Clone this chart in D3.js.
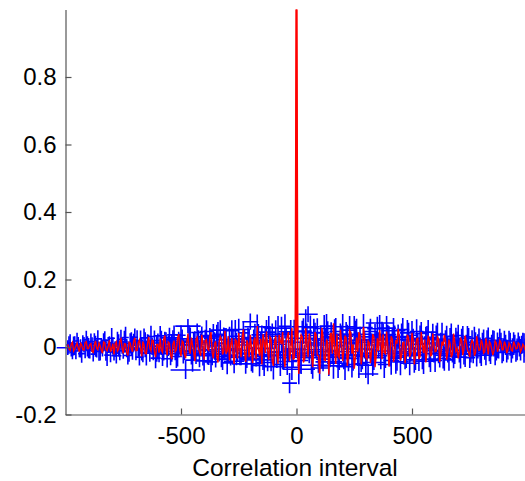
<!DOCTYPE html>
<html><head><meta charset="utf-8">
<script src="https://cdn.jsdelivr.net/npm/d3@7"></script>
<style>html,body{margin:0;background:#fff}svg{display:block}</style>
</head><body><div id="c"></div>
<script>
// all correlation values in thousandths; main lags run -990..-10 and 10..990 by tens
const redLeft = [
 8,-10,14,-6,12,-14,6,-9,16,-4, 10,-16,18,-8,4,-18,13,-11,20,-5,
 -22,15,-7,24,-19,9,-25,12,-14,27, -10,21,-28,6,-20,30,-12,18,-30,8,
 25,-16,34,-24,11,-36,19,-8,38,-28, 14,-33,40,-20,6,-42,29,-15,36,-38,
 22,-10,44,-34,17,-46,31,-22,48,-12, -40,26,-50,18,42,-30,52,-44,9,36,
 -48,28,62,-26,-52,14,46,-38,24,-56, 34,-50,18,44,-60,30,-42,56,-34];
const redRight = [
 -80,36,-46,56,-30,20,-60,44,-24,-80, 57,-38,22,-82,42,70,-50,-26,52,-42,
 34,-56,48,-20,-64,28,44,-52,60,-30, 18,-48,38,-60,26,50,-36,-16,46,-58,
 32,-44,20,54,-40,12,-48,36,-30,42, -52,24,-36,44,-18,-46,34,-26,40,-14,
 30,-44,16,36,-38,22,-30,40,-12,-34, 28,-24,34,-8,-30,20,-26,32,-10,22,
 -18,26,-22,10,-24,18,-14,20,-8,16, -18,12,-10,16,-6,12,-14,8,-10];
// in-between lags -985..-5 and 5..985 by tens
const redMidLeft = [
 -6,9,-12,4,-3,11,-8,13,-5,7, -13,6,-4,12,-9,15,-7,3,-14,10,
 8,-12,17,-3,10,-16,14,-5,18,-11, 13,-6,16,-19,9,-4,20,-13,7,-17,
 -10,22,-5,15,-24,8,-14,26,-9,18, -21,12,-7,28,-15,23,-3,-26,11,19,
 -6,30,-16,9,-28,14,24,-12,-20,32, 6,-18,22,-34,-8,27,-14,20,-30,-4,
 16,-36,-6,24,38,-18,-10,30,-42,12, -22,36,8,-28,16,44,-12,-36,20];
const redMidRight = [
 -20,10,30,-34,14,40,-16,-8,36,-26, -14,28,-40,12,34,-20,-6,38,-32,16,
 -10,26,-24,42,8,-30,-14,34,-18,22, -36,12,-8,30,-28,-12,24,38,-20,6,
 -16,22,-26,10,30,-24,14,-6,28,-18, 20,-10,26,-28,8,22,-12,18,-24,6,
 -12,24,-18,4,20,-14,10,-22,16,-4, -10,18,-6,14,-16,8,12,-18,6,-8,
 10,-14,4,16,-6,-10,12,-4,14,-8, 6,-9,5,-12,7,-4,8,-6,3];
const blueLeft = [
 -2,12,-16,4,18,-9,-20,7,22,-3, 16,-21,2,24,-12,-5,20,-24,8,26,
 -14,-26,5,23,-10,28,-25,11,-3,29, 19,-30,-6,27,-18,9,31,-13,-33,2,
 33,-20,14,-35,27,-4,36,-28,7,35, -13,-68,62,18,-39,5,43,-24,30,-41,
 46,-9,-44,34,-21,38,50,-36,10,-47, 22,48,-42,-6,52,-30,42,-50,14,75,
 -38,27,60,-55,18,-46,44,58,-24,-58, 37,56,-52,-14,61,-43,-107,-60,45];
const blueRight = [
 -66,-30,47,60,97,57,-54,24,43,-62, -14,55,62,-44,27,-56,46,-48,34,60,
 -58,14,50,-52,56,38,-50,-24,58,-54, -80,46,-46,20,54,71,37,-52,56,12,
 -40,48,-33,31,-44,52,-18,42,-48,35, -38,46,-25,40,-42,10,44,-36,29,-40,
 36,-19,38,-34,23,-38,32,-27,15,34, -30,26,-21,30,-32,8,26,-26,21,-20,
 18,-24,26,-14,20,-22,5,24,-16,18, -12,18,-20,10,-14,16,-8,12,-2];
const blueMidLeft = [
 6,-8,3,-12,9,-4,12,-7,2,-10, 7,10,-5,-13,4,14,-9,6,-15,3,
 -6,12,-11,5,16,-3,-14,9,13,-8, -4,15,-17,7,11,-12,2,19,-6,-16,
 12,-9,18,3,-14,22,-5,-20,10,16, -12,6,24,-18,2,-23,14,9,-26,18,
 -8,26,-20,4,30,-14,-28,12,22,-6, -24,16,32,-10,-30,6,24,-18,28,-34,
 10,-22,36,-4,-28,20,-38,14,32,-16, -26,8,38,-32,18,-12,42,-24,-6];
const blueMidRight = [
 14,-40,26,-18,34,-8,-32,42,6,-26, 20,-36,12,30,-22,-10,38,4,-30,24,
 -14,32,-34,10,-24,36,-6,20,-28,14, -18,30,-8,-32,22,6,-26,34,-12,24,
 -20,10,28,-30,4,22,-14,-26,30,-6, 18,-22,8,26,-16,-4,24,-20,12,-10,
 22,-14,6,-24,18,-8,20,-4,-18,12, -10,16,-20,6,14,-12,-16,10,2,-14,
 12,-6,14,-12,4,10,-10,-2,12,-8, 6,-10,8,-4,9,-7,2,6,-3];
const errYLeft = [
 22,26,20,28,24,21,27,23,26,30, 24,22,31,26,28,23,27,32,24,30,
 26,23,33,28,25,32,27,30,35,26, 31,25,34,28,37,27,32,26,30,38,
 29,36,31,26,30,40,28,34,38,29, 36,27,21,40,34,42,27,36,31,29,
 33,44,30,34,40,36,29,32,46,34, 38,31,36,48,32,24,34,29,44,24,
 38,42,36,32,46,40,36,34,48,38, 42,36,34,52,36,40,30,38,36];
const errYRight = [
 44,50,38,52,24,36,40,48,42,38, 50,40,36,42,46,38,40,44,36,38,
 40,52,42,38,36,46,42,50,40,38, 30,38,40,48,36,24,38,40,36,50,
 42,38,46,36,40,34,48,38,36,42, 38,36,46,34,38,50,36,38,40,34,
 36,42,34,36,40,32,38,36,42,32, 34,36,38,32,30,42,34,32,34,36,
 34,30,32,36,30,32,38,30,32,30, 34,30,27,34,30,27,32,30,27];
const errXLeft = [
 48,12,10,14,10,12,16,10,12,14, 16,12,14,18,12,16,14,12,20,14,
 18,22,14,16,24,14,18,20,16,14, 26,18,30,16,24,20,14,32,22,18,
 28,34,20,26,40,18,30,24,44,20, 36,65,55,46,32,20,26,60,22,34,
 30,42,26,56,32,24,44,36,62,26, 58,30,44,28,48,52,24,60,40,34,
 52,28,56,30,62,34,42,26,64,44, 36,58,30,66,28,42,32,34,68];
const errXRight = [
 70,44,36,60,42,30,66,32,52,38, 68,40,30,58,34,70,28,48,36,50,
 38,64,30,46,34,60,28,66,40,32, 44,30,54,26,44,60,62,28,40,46,
 34,52,24,44,36,28,58,32,42,24, 46,30,36,26,48,22,34,40,24,30,
 26,38,22,30,34,20,28,36,18,24, 30,20,26,18,24,16,28,20,14,22,
 16,22,14,18,24,14,20,12,16,18, 12,16,14,10,16,12,14,18,26];
const peakLags = [-4, 0, 4];
const peakVals = [30, 1000, 20];
const xTicks = [-500, 0, 500];
const yTicks = [-0.2, 0, 0.2, 0.4, 0.6, 0.8];
const xLabel = "Correlation interval";

const W = 525, H = 481;
const svg = d3.select("#c").append("svg").attr("width", W).attr("height", H);
const x = d3.scaleLinear().domain([-1000, 1000]).range([65.5, 527.5]);
const y = d3.scaleLinear().domain([-0.2, 1]).range([414.5, 9.5]);
const font = "'Liberation Sans', Arial, sans-serif";

const lagsL = d3.range(-990, -5, 10), lagsR = d3.range(10, 995, 10);
const midL = d3.range(-985, 0, 10), midR = d3.range(5, 990, 10);
const point = (vals, ey, ex, shift) => (l, i) => ({
  l, v: vals[i] / 1000,
  ey: ey[(i + shift) % ey.length] / 1000,
  ex: ex[(i + shift) % ex.length]
});
const blue = [
  ...midL.map(point(blueMidLeft, errYLeft, errXLeft, 1)),
  ...midR.map(point(blueMidRight, errYRight, errXRight, 1)),
  ...lagsL.map(point(blueLeft, errYLeft, errXLeft, 0)),
  ...lagsR.map(point(blueRight, errYRight, errXRight, 0))
];
const peak = peakLags.map((l,i)=>({l,v:peakVals[i]/1000}));
const red = d3.sort([
  ...lagsL.map((l,i)=>({l,v:redLeft[i]/1000})),
  ...midL.map((l,i)=>({l,v:redMidLeft[i]/1000})),
  ...peak,
  ...midR.map((l,i)=>({l,v:redMidRight[i]/1000})),
  ...lagsR.map((l,i)=>({l,v:redRight[i]/1000}))
], d => d.l);

const gB = svg.append("g").attr("stroke", "#0000ff").attr("stroke-width", 1.6).attr("fill","none");
gB.selectAll("path").data(blue).join("path")
  .attr("d", d => `M${x(d.l)},${y(d.v-d.ey)}V${y(d.v+d.ey)}M${x(d.l-d.ex)},${y(d.v)}H${x(d.l+d.ex)}`);

const line = d3.line().x(d=>x(d.l)).y(d=>y(d.v));
svg.append("path").datum(red).attr("d", line).attr("fill","none")
   .attr("stroke","#ff0000").attr("stroke-width",1.4).attr("stroke-linejoin","miter");
svg.append("path").datum(peak).attr("d", line).attr("fill","none")
   .attr("stroke","#ff0000").attr("stroke-width",2.2).attr("stroke-linejoin","bevel");

const ax = svg.append("g").attr("transform",`translate(0,414.5)`)
  .call(d3.axisBottom(x).tickValues(xTicks).tickFormat(d=>String(d)).tickSizeInner(-6).tickSizeOuter(0).tickPadding(12));
const ay = svg.append("g").attr("transform",`translate(65.5,0)`)
  .call(d3.axisLeft(y).tickValues(yTicks).tickFormat(d=>String(d)).tickSizeInner(-6).tickSizeOuter(0).tickPadding(9));
[ax,ay].forEach(g=>{
  g.selectAll("path,line").attr("stroke","#555").attr("stroke-width",1.2);
  g.selectAll("text").attr("fill","#000").style("font-family",font).style("font-size","24px");
});
svg.append("text").attr("x",295).attr("y",476).attr("text-anchor","middle")
   .style("font-family",font).style("font-size","24.5px").attr("fill","#000").text(xLabel);
</script></body></html>
